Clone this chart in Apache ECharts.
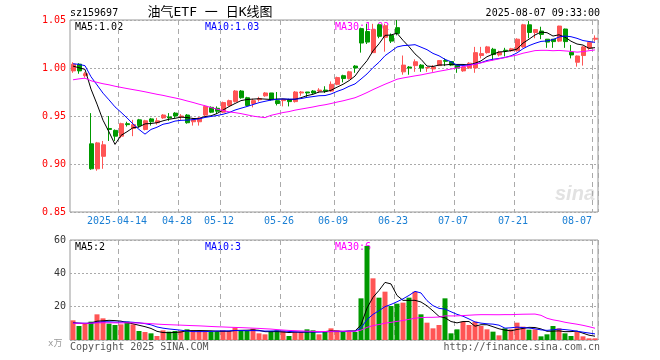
<!DOCTYPE html>
<html><head><meta charset="utf-8">
<script src="https://cdn.jsdelivr.net/npm/echarts@6/dist/echarts.min.js"></script>
<style>html,body{margin:0;padding:0;background:#fff}#c{width:660px;height:360px}</style>
</head><body><div id="c"></div>
<script>
const dates = ['2025-04-01','2025-04-02','2025-04-03','2025-04-07','2025-04-08','2025-04-09','2025-04-10','2025-04-11','2025-04-14','2025-04-15',
'2025-04-16','2025-04-17','2025-04-18','2025-04-21','2025-04-22','2025-04-23','2025-04-24','2025-04-25','2025-04-28','2025-04-29',
'2025-04-30','2025-05-06','2025-05-07','2025-05-08','2025-05-09','2025-05-12','2025-05-13','2025-05-14','2025-05-15','2025-05-16',
'2025-05-19','2025-05-20','2025-05-21','2025-05-22','2025-05-23','2025-05-26','2025-05-27','2025-05-28','2025-05-29','2025-05-30',
'2025-06-03','2025-06-04','2025-06-05','2025-06-06','2025-06-09','2025-06-10','2025-06-11','2025-06-12','2025-06-13','2025-06-16',
'2025-06-17','2025-06-18','2025-06-19','2025-06-20','2025-06-23','2025-06-24','2025-06-25','2025-06-26','2025-06-27','2025-06-30',
'2025-07-01','2025-07-02','2025-07-03','2025-07-04','2025-07-07','2025-07-08','2025-07-09','2025-07-10','2025-07-11','2025-07-14',
'2025-07-15','2025-07-16','2025-07-17','2025-07-18','2025-07-21','2025-07-22','2025-07-23','2025-07-24','2025-07-25','2025-07-28',
'2025-07-29','2025-07-30','2025-07-31','2025-08-01','2025-08-04','2025-08-05','2025-08-06','2025-08-07'];

const opens = [0.997,1.004,0.992,0.921,0.895,0.908,0.937,0.935,0.929,0.942,
0.937,0.946,0.936,0.947,0.943,0.948,0.949,0.953,0.949,0.951,
0.944,0.944,0.951,0.959,0.958,0.954,0.961,0.965,0.976,0.969,
0.963,0.967,0.971,0.974,0.966,0.966,0.967,0.965,0.974,0.975,
0.976,0.976,0.977,0.976,0.983,0.992,0.989,1.002,1.041,1.038,
1.016,1.045,1.032,1.034,1.042,0.996,1.001,1.0025,1.003,1.000,
0.999,1.0025,1.0077,1.0067,1.003,0.997,1.000,1.000,1.013,1.016,
1.0195,1.0136,1.0185,1.018,1.018,1.022,1.045,1.037,1.0385,1.030,
1.030,1.028,1.0406,1.0164,1.006,1.013,1.0205,1.030];

const closes = [1.004,0.997,0.994,0.895,0.922,0.920,0.936,0.929,0.942,0.941,
0.941,0.940,0.945,0.944,0.945,0.951,0.948,0.950,0.950,0.943,
0.946,0.948,0.960,0.954,0.955,0.964,0.966,0.976,0.969,0.961,
0.966,0.968,0.974,0.967,0.963,0.967,0.965,0.975,0.975,0.974,
0.974,0.977,0.976,0.983,0.990,0.989,0.996,1.000,1.026,1.027,
1.040,1.033,1.044,1.028,1.036,1.003,1.000,1.0065,1.000,1.0005,
1.001,1.0077,1.007,1.003,1.000,1.001,1.005,1.016,1.015,1.022,
1.014,1.0164,1.018,1.020,1.030,1.045,1.037,1.040,1.035,1.027,
1.0275,1.0437,1.0275,1.0136,1.0125,1.022,1.0267,1.031];

const highs = [1.006,1.005,0.996,0.953,0.923,0.924,0.950,0.936,0.943,0.944,
0.946,0.947,0.946,0.948,0.948,0.952,0.953,0.954,0.952,0.952,
0.948,0.949,0.961,0.960,0.960,0.965,0.967,0.977,0.977,0.970,
0.968,0.970,0.975,0.974,0.975,0.968,0.968,0.976,0.976,0.975,
0.977,0.979,0.981,0.986,0.991,0.993,0.997,1.003,1.042,1.046,
1.046,1.046,1.046,1.036,1.050,1.013,1.002,1.009,1.004,1.001,
1.003,1.008,1.010,1.007,1.003,1.002,1.006,1.022,1.022,1.023,
1.021,1.018,1.021,1.021,1.031,1.046,1.049,1.040,1.043,1.030,
1.030,1.044,1.041,1.024,1.013,1.023,1.027,1.034];

const lows = [0.995,0.994,0.990,0.894,0.893,0.895,0.924,0.924,0.927,0.939,
0.929,0.938,0.935,0.940,0.941,0.947,0.945,0.948,0.946,0.942,
0.940,0.940,0.950,0.953,0.952,0.953,0.960,0.964,0.968,0.960,
0.959,0.965,0.970,0.966,0.961,0.960,0.960,0.964,0.971,0.970,
0.973,0.974,0.974,0.975,0.982,0.985,0.988,0.995,1.016,1.025,
1.016,1.031,1.017,1.026,1.034,0.993,0.993,0.996,0.996,0.996,
0.996,1.002,1.002,1.002,0.995,0.996,0.999,0.995,1.010,1.015,
1.008,1.012,1.012,1.017,1.017,1.021,1.031,1.031,1.030,1.021,
1.021,1.027,1.021,1.010,1.0014,1.0025,1.019,1.0275];

const volumes = [11.8,8.4,9.8,11.0,15.4,13.0,9.8,9.0,9.4,11.0,
9.4,5.4,4.8,4.0,2.4,5.8,5.0,5.4,5.4,6.4,
5.8,5.4,5.0,5.0,5.0,5.8,5.4,7.4,5.4,5.4,
6.8,4.0,3.4,5.4,5.8,5.4,2.4,4.8,4.8,6.4,
5.8,3.4,4.8,7.0,5.8,4.8,4.8,4.8,25.0,56.4,
37.0,25.4,29.0,20.4,21.8,22.4,25.4,29.0,15.4,10.4,
7.0,9.0,25.0,4.0,6.4,11.0,9.0,11.0,8.4,6.4,
5.0,2.8,7.0,6.4,10.4,8.0,6.2,6.4,2.2,3.4,
8.4,7.0,4.0,2.4,4.8,2.2,1.0,1.0];

// sessions before the first visible day (read back from where the MA lines start)
const priorCloses = [0.968,0.972,0.975,0.970,0.966,0.970,0.974,0.978,0.976,0.973,
0.975,0.980,0.984,0.982,0.986,0.990,0.988,0.992,0.995,0.993,
1.003,1.008,1.010,1.007,1.006,1.006,1.002,0.998,1.000];
const priorVolumes = [9,11,8.5,10,12,9.5,10,11,9,10.5,
8,9.5,11,10,12,9,10,9.5,11,10,
9,10.5,11,10,9.5,10,11,9,10];

const tickIndex = [8,18,25,35,44,54,64,74,87];
const tickLabels = ['2025-04-14','04-28','05-12','05-26','06-09','06-23','07-07','07-21','08-07'];

const RED = '#ff5555', GREEN = '#009900';
const MONO = '"DejaVu Sans Mono", monospace';
const TITLEF = '"DejaVu Sans Mono", "Noto Sans CJK SC", monospace';

function movingAvg(prior, vals, n) {
  const all = prior.concat(vals), off = prior.length, out = [];
  for (let i = 0; i < vals.length; i++) {
    let s = 0;
    for (let k = 0; k < n; k++) s += all[off + i - k];
    out.push(+(s / n).toFixed(4));
  }
  return out;
}

const kData = dates.map((d, i) => [opens[i], closes[i], lows[i], highs[i]]);
const volData = volumes.map((v, i) => ({ value: v, itemStyle: { color: closes[i] >= opens[i] ? RED : GREEN } }));

const tickShow = (idx) => tickIndex.indexOf(idx) >= 0;

function xAxisBase(grid, showLabel) {
  return {
    type: 'category', gridIndex: grid, data: dates, boundaryGap: true,
    axisLine: { show: false }, axisTick: { show: false },
    axisLabel: {
      show: showLabel, interval: tickShow, margin: 4,
      formatter: (val, idx) => {
        const k = tickIndex.indexOf(idx);
        if (k < 0) return '';
        return (idx === dates.length - 1 ? '{e|' : '{n|') + tickLabels[k] + '}';
      },
      rich: {
        n: { padding: [0, 8, 0, 0], color: '#1a7fd4', fontFamily: MONO, fontSize: 10 },
        e: { padding: [0, 36, 0, 0], color: '#1a7fd4', fontFamily: MONO, fontSize: 10 }
      }
    },
    splitLine: { show: true, interval: tickShow, lineStyle: { color: '#aaaaaa', width: 1, type: [5, 4] } }
  };
}

const lineS = (name, data, color, xi, yi) => ({
  name, type: 'line', xAxisIndex: xi, yAxisIndex: yi, data, showSymbol: false, symbol: 'none',
  lineStyle: { color, width: 1 }, silent: true, z: 5
});

const txt = (x, y, text, fill, opts) => ({
  type: 'text', x, y, silent: true,
  style: Object.assign({ text, fill, fontFamily: MONO, fontSize: 10, align: 'left', verticalAlign: 'middle' }, opts || {})
});

const chart = echarts.init(document.getElementById('c'));
chart.setOption({
  animation: false,
  backgroundColor: '#ffffff',
  grid: [
    { left: 70, top: 20, width: 528, height: 192, show: true, borderColor: '#999999', borderWidth: 1, backgroundColor: 'transparent' },
    { left: 70, top: 240, width: 528, height: 100, show: true, borderColor: '#999999', borderWidth: 1, backgroundColor: 'transparent' }
  ],
  xAxis: [xAxisBase(0, true), xAxisBase(1, false)],
  yAxis: [
    { type: 'value', gridIndex: 0, min: 0.85, max: 1.05, interval: 0.05,
      axisLine: { show: false }, axisTick: { show: false },
      axisLabel: { color: '#ff0000', fontFamily: MONO, fontSize: 10, margin: 4, formatter: v => v.toFixed(2) },
      splitLine: { lineStyle: { color: '#aaaaaa', type: [2, 2] } } },
    { type: 'value', gridIndex: 1, min: 0, max: 60, interval: 20,
      axisLine: { show: false }, axisTick: { show: false },
      axisLabel: { color: '#333333', fontFamily: MONO, fontSize: 10, margin: 4, formatter: v => v === 0 ? '' : String(v) },
      splitLine: { lineStyle: { color: '#aaaaaa', type: [2, 2] } } }
  ],
  series: [
    { name: 'K', type: 'candlestick', xAxisIndex: 0, yAxisIndex: 0, data: kData, barWidth: 4.5,
      itemStyle: { color: RED, color0: GREEN, borderColor: RED, borderColor0: GREEN, borderWidth: 1 } },
    lineS('MA5', movingAvg(priorCloses, closes, 5), '#000000', 0, 0),
    lineS('MA10', movingAvg(priorCloses, closes, 10), '#0000ff', 0, 0),
    lineS('MA30', movingAvg(priorCloses, closes, 30), '#ff00ff', 0, 0),
    { name: 'VOL', type: 'bar', xAxisIndex: 1, yAxisIndex: 1, data: volData, barWidth: 5, silent: true },
    lineS('VMA5', movingAvg(priorVolumes, volumes, 5), '#000000', 1, 1),
    lineS('VMA10', movingAvg(priorVolumes, volumes, 10), '#0000ff', 1, 1),
    lineS('VMA30', movingAvg(priorVolumes, volumes, 30), '#ff00ff', 1, 1)
  ],
  graphic: [
    txt(70, 13, 'sz159697', '#000000'),
    txt(210, 13, '油气ETF 一 日K线图', '#000000', { align: 'center', fontFamily: TITLEF, fontSize: 13 }),
    txt(600, 13, '2025-08-07 09:33:00', '#000000', { align: 'right' }),
    txt(75, 27, 'MA5:1.02', '#000000'),
    txt(205, 27, 'MA10:1.03', '#0000ff'),
    txt(335, 27, 'MA30:1.02', '#ff00ff'),
    txt(75, 247, 'MA5:2', '#000000'),
    txt(205, 247, 'MA10:3', '#0000ff'),
    txt(335, 247, 'MA30:6', '#ff00ff'),
    txt(70, 347, 'Copyright 2025 SINA.COM', '#555555'),
    txt(600, 347, 'http://finance.sina.com.cn', '#555555', { align: 'right' }),
    txt(48, 344, 'x万', '#999999', { fontSize: 9, fontFamily: TITLEF }),
    txt(595, 194, 'sina', '#e2e2e2', { align: 'right', fontSize: 20, fontStyle: 'italic', fontWeight: 'bold', fontFamily: 'Liberation Sans, sans-serif' })
  ]
});
</script>
</body></html>
